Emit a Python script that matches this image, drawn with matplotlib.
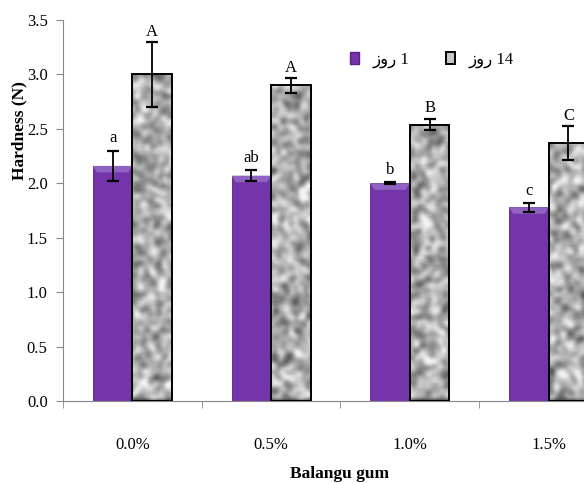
import numpy as np
import matplotlib.pyplot as plt
from matplotlib.patches import Rectangle, Polygon

categories = ["0.0%", "0.5%", "1.0%", "1.5%"]
day1 = [2.16, 2.07, 2.00, 1.78]
day1_err = [0.14, 0.05, 0.01, 0.04]
day14 = [3.00, 2.90, 2.54, 2.37]
day14_err = [0.30, 0.07, 0.055, 0.155]
day1_letters = ["a", "ab", "b", "c"]
day14_letters = ["A", "A", "B", "C"]
legend_labels = ["\u0632\u0648\u0631 1", "\u0632\u0648\u0631 14"]

serif = ["Liberation Serif", "DejaVu Sans"]
plt.rcParams['font.family'] = serif

fig = plt.figure(figsize=(5.84, 4.83), dpi=100)
ax = fig.add_axes([63 / 584, 82 / 483, 555 / 584, 381 / 483])

x = np.arange(len(categories))
w = 0.285
purple = "#7434aa"

b1 = ax.bar(x - w / 2, day1, w, color=purple, edgecolor="#5a2288", linewidth=0.6, zorder=2)
b14 = ax.bar(x + w / 2, day14, w, facecolor="none", edgecolor="black", linewidth=1.4, zorder=3.5)

# lighter bevel at top of purple bars
for r in b1:
    x0, x1, top = r.get_x(), r.get_x() + r.get_width(), r.get_height()
    ax.add_patch(Polygon([(x0, top), (x1, top), (x1 - 0.03, top - 0.06), (x0 + 0.03, top - 0.06)],
                         closed=True, color="#9063c2", lw=0, zorder=2.5))

# speckled texture for the day-14 bars
rng = np.random.default_rng(7)
tex = rng.random((190, 280))
k = np.ones(3) / 3
for _ in range(2):
    tex = np.apply_along_axis(lambda r: np.convolve(r, k, mode="same"), 0, tex)
    tex = np.apply_along_axis(lambda r: np.convolve(r, k, mode="same"), 1, tex)
tex = (tex - tex.mean()) / tex.std()
tex = np.clip(0.68 + 0.12 * tex, 0.3, 0.96)
for r in b14:
    im = ax.imshow(tex, cmap="gray", vmin=0, vmax=1, extent=[-0.5, 3.5, 0, 3.5],
                   aspect="auto", zorder=3, interpolation="bicubic")
    im.set_clip_path(r)

ax.errorbar(x - w / 2, day1, yerr=day1_err, fmt="none", ecolor="black", elinewidth=1.3,
            capsize=4, capthick=1.6, zorder=5)
ax.errorbar(x + w / 2, day14, yerr=day14_err, fmt="none", ecolor="black", elinewidth=1.3,
            capsize=4, capthick=1.6, zorder=5)

for i in range(len(categories)):
    ax.text(x[i] - w / 2, day1[i] + day1_err[i] + 0.04, day1_letters[i], ha="center",
            va="bottom", fontsize=12)
    ax.text(x[i] + w / 2, day14[i] + day14_err[i] + 0.02, day14_letters[i], ha="center",
            va="bottom", fontsize=12)

ax.set_xlim(-0.5, 3.5)
ax.set_ylim(0, 3.5)
ax.set_yticks(np.arange(0, 3.51, 0.5))
ax.set_yticklabels([f"{v:.1f}" for v in np.arange(0, 3.51, 0.5)], fontsize=12)
ax.set_xticks(x)
ax.set_xticklabels(categories, fontsize=12)
ax.set_xticks(np.arange(-0.5, 3.5, 1), minor=True)
ax.tick_params(axis="x", which="major", length=0, pad=26)
ax.tick_params(axis="x", which="minor", length=5, color="#888888")
ax.tick_params(axis="y", length=5, color="#888888", pad=6)
for s in ["top", "right"]:
    ax.spines[s].set_visible(False)
for s in ["left", "bottom"]:
    ax.spines[s].set_color("#888888")

fig.text(19 / 584, 1 - 131 / 483, "Hardness (N)", rotation=90, ha="center", va="center",
         fontsize=12.5, fontweight="bold")
fig.text(340 / 584, 1 - 474 / 483, "Balangu gum", ha="center", va="center",
         fontsize=12.5, fontweight="bold")

h1 = Rectangle((0, 0), 1, 1, facecolor=purple, edgecolor="#5a2288")
h2 = Rectangle((0, 0), 1, 1, facecolor="#c8c8c8", edgecolor="black", lw=1.4)
leg = fig.legend([h1, h2], legend_labels, ncol=2, frameon=False, loc="center",
                 bbox_to_anchor=(432 / 584, 1 - 60 / 483), handlelength=0.55, handleheight=0.75,
                 columnspacing=2.2, handletextpad=0.8, prop={"family": serif, "size": 12})

fig.savefig("out.png", dpi=100)
